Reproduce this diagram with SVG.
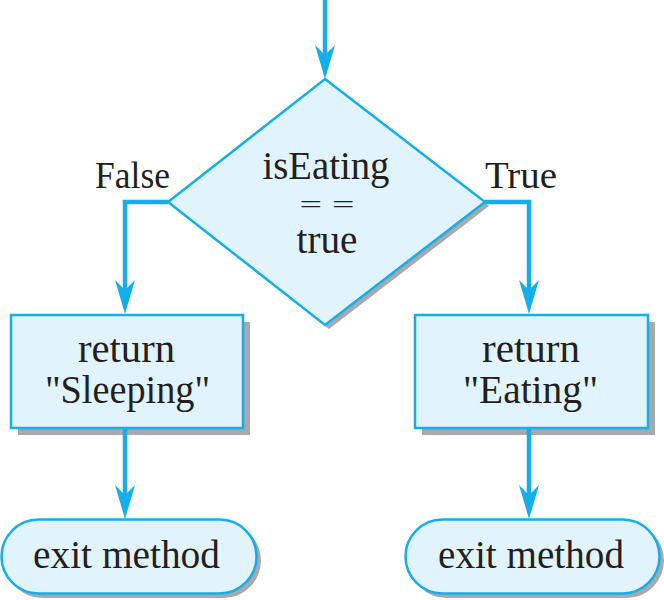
<svg xmlns="http://www.w3.org/2000/svg" width="664" height="600" viewBox="0 0 664 600">
<defs>
<style>
.shape{fill:#E1F3FC;stroke:#14AEEA;stroke-width:2.5}
.shadow{fill:#A7A9AC;stroke:none}
.conn{fill:none;stroke:#14AEEA;stroke-width:4.5}
.t{font-family:"Liberation Serif","Times New Roman",serif;font-size:39px;fill:#231F20;text-anchor:middle}
.lbl{font-family:"Liberation Serif","Times New Roman",serif;font-size:37px;fill:#231F20}
</style>
<marker id="arr" viewBox="-1 -11 36 22" refX="10" refY="0" markerWidth="36" markerHeight="22" markerUnits="userSpaceOnUse" orient="auto">
<path d="M0,-10 L34,0 L0,10 L10,0 Z" fill="#14AEEA"/>
</marker>
</defs>
<rect width="664" height="600" fill="#FFFFFF"/>

<g id="decision">
<polygon class="shadow" points="329,83 489,206 329,329 172,206"/>
<polygon class="shape" points="325,79 485,202 325,325 168,202"/>
<text class="t" x="326" y="179" textLength="127" lengthAdjust="spacingAndGlyphs">isEating</text>
<text class="t" x="327" y="213" style="font-size:25px" textLength="55" lengthAdjust="spacingAndGlyphs">= =</text>
<text class="t" x="327" y="253" textLength="61" lengthAdjust="spacingAndGlyphs">true</text>
</g>

<g id="returnSleeping">
<rect class="shadow" x="18" y="322" width="232" height="113"/>
<rect class="shape" x="11" y="315" width="232" height="113"/>
<text class="t" x="126.5" y="362" textLength="97" lengthAdjust="spacingAndGlyphs">return</text>
<text class="t" x="127.5" y="403" textLength="165" lengthAdjust="spacingAndGlyphs">"Sleeping"</text>
</g>

<g id="returnEating">
<rect class="shadow" x="422" y="322" width="233" height="113"/>
<rect class="shape" x="415" y="315" width="233" height="113"/>
<text class="t" x="531" y="362" textLength="98" lengthAdjust="spacingAndGlyphs">return</text>
<text class="t" x="530.5" y="403" textLength="135" lengthAdjust="spacingAndGlyphs">"Eating"</text>
</g>

<g id="exitLeft">
<rect class="shadow" x="5" y="523" width="256" height="75" rx="37.5"/>
<rect class="shape" x="1.5" y="519.5" width="255" height="74" rx="37"/>
<text class="t" x="126.5" y="568" textLength="187" lengthAdjust="spacingAndGlyphs">exit method</text>
</g>

<g id="exitRight">
<rect class="shadow" x="409" y="523" width="255" height="75" rx="37.5"/>
<rect class="shape" x="405.5" y="519.5" width="254" height="74" rx="37"/>
<text class="t" x="531" y="568" textLength="186" lengthAdjust="spacingAndGlyphs">exit method</text>
</g>

<g id="labels">
<text class="lbl" x="95" y="188" textLength="75" lengthAdjust="spacingAndGlyphs">False</text>
<text class="lbl" x="485" y="188" textLength="72" lengthAdjust="spacingAndGlyphs">True</text>
</g>

<g id="connectors">
<path class="conn" d="M325,0 V55" marker-end="url(#arr)"/>
<path class="conn" d="M168,202 H125 V290" marker-end="url(#arr)"/>
<path class="conn" d="M485,202 H529 V290" marker-end="url(#arr)"/>
<path class="conn" d="M125,428 V495" marker-end="url(#arr)"/>
<path class="conn" d="M529,428 V495" marker-end="url(#arr)"/>
</g>
</svg>
